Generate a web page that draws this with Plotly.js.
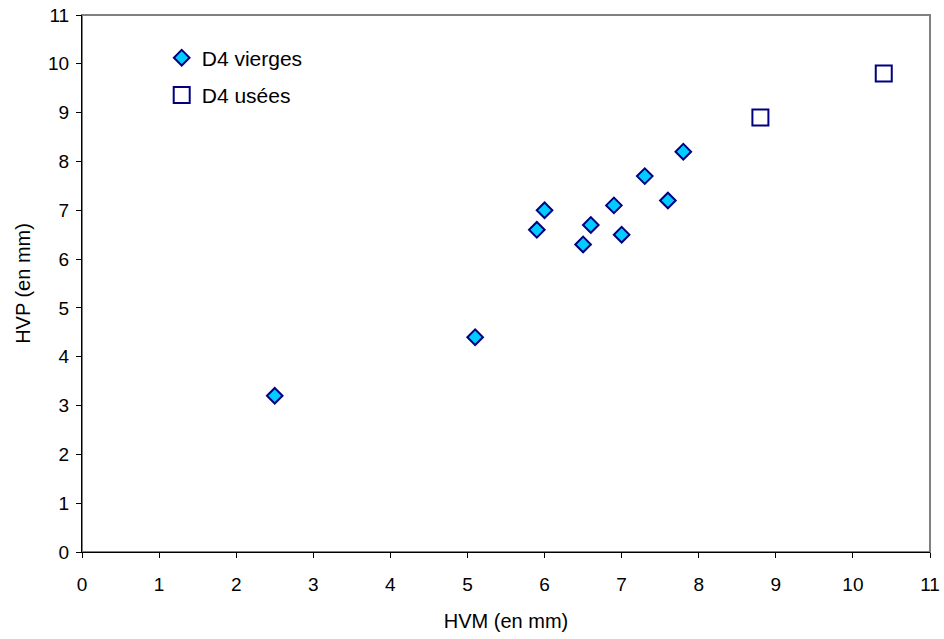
<!DOCTYPE html>
<html>
<head>
<meta charset="utf-8">
<script src="https://cdn.plot.ly/plotly-3.0.1.min.js"></script>
<style>html,body{margin:0;padding:0;background:#fff;}#chart{width:944px;height:639px;}</style>
</head>
<body>
<div id="chart"></div>
<script>
// Data
const viergesHVM = [2.5, 5.1, 5.9, 6.0, 6.5, 6.6, 6.9, 7.0, 7.3, 7.6, 7.8];
const viergesHVP = [3.2, 4.4, 6.6, 7.0, 6.3, 6.7, 7.1, 6.5, 7.7, 7.2, 8.2];
const useesHVM = [8.8, 10.4];
const useesHVP = [8.9, 9.8];
const seriesNames = ["D4 vierges", "D4 usées"];
const xTitle = "HVM (en mm)";
const yTitle = "HVP (en mm)";

const font = "Liberation Sans, Arial, sans-serif";

const traces = [
  {
    type: "scatter", mode: "markers", name: seriesNames[0],
    x: viergesHVM, y: viergesHVP, legendgroup: "a",
    marker: {symbol: "diamond", size: 12, color: "#00CCFF", line: {color: "#000080", width: 2}}
  },
  {
    type: "scatter", mode: "markers", name: seriesNames[1],
    x: useesHVM, y: useesHVP, legendgroup: "b",
    marker: {symbol: "square-open", size: 16, color: "#000080", line: {color: "#000080", width: 2}}
  }
];

const layout = {
  width: 944, height: 639,
  margin: {l: 82, r: 14, t: 15, b: 87},
  paper_bgcolor: "#fff", plot_bgcolor: "#fff",
  font: {family: font, size: 19, color: "#000"},
  showlegend: true,
  legend: {
    x: 0.094, y: 0.958, xanchor: "left", yanchor: "top",
    bgcolor: "rgba(0,0,0,0)", borderwidth: 0,
    traceorder: "grouped", tracegroupgap: 7,
    font: {family: font, size: 21, color: "#000"}
  },
  xaxis: {
    range: [0, 11], dtick: 1, tick0: 0, showgrid: false, zeroline: false,
    showline: true, linecolor: "#000", linewidth: 1,
    ticks: "outside", ticklen: 5, tickcolor: "#000", ticklabelstandoff: 10,
    tickfont: {family: font, size: 19, color: "#000"},
    title: {text: xTitle, font: {family: font, size: 20, color: "#000"}, standoff: 20}
  },
  yaxis: {
    range: [0, 11], dtick: 1, tick0: 0, showgrid: false, zeroline: false,
    showline: true, linecolor: "#000", linewidth: 1,
    ticks: "outside", ticklen: 5, tickcolor: "#000", ticklabelstandoff: 3,
    tickfont: {family: font, size: 19, color: "#000"},
    title: {text: yTitle, font: {family: font, size: 20, color: "#000"}, standoff: 12}
  },
  shapes: [
    {type: "rect", xref: "paper", yref: "paper", x0: 0, x1: 1, y0: 0, y1: 1,
     line: {color: "#808080", width: 2}, layer: "below"}
  ]
};

Plotly.newPlot("chart", traces, layout, {displayModeBar: false, staticPlot: true});
</script>
</body>
</html>
